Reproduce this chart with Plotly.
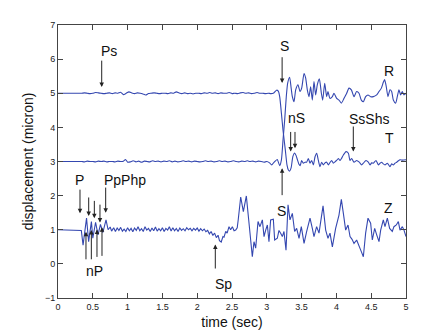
import plotly.graph_objects as go

# ---------------- data ----------------
z_time = [0.0, 0.32, 0.335, 0.36, 0.385, 0.41, 0.44, 0.48, 0.50, 0.54, 0.575, 0.61, 0.645, 0.69,
          0.72, 0.75, 0.77, 0.80, 0.825, 0.85, 0.875, 0.90, 0.925, 0.95, 0.975, 1.0, 1.025, 1.05,
          1.075, 1.10, 1.125, 1.15, 1.175, 1.20, 1.225, 1.25, 1.275, 1.30, 1.325, 1.35, 1.375, 1.40,
          1.425, 1.45, 1.475, 1.50, 1.525, 1.55, 1.575, 1.60, 1.625, 1.65, 1.675, 1.70, 1.725, 1.75,
          1.775, 1.80, 1.825, 1.85, 1.875, 1.90, 1.925, 1.95, 1.975, 2.0, 2.025, 2.05, 2.075, 2.10,
          2.125, 2.15, 2.175, 2.20, 2.225, 2.25, 2.275, 2.30, 2.32, 2.345, 2.37, 2.385, 2.41, 2.43,
          2.457, 2.48, 2.505, 2.53, 2.553, 2.575, 2.59, 2.625, 2.663, 2.706, 2.735, 2.768, 2.792,
          2.816, 2.840, 2.874, 2.902, 2.936, 2.960, 2.984, 3.008, 3.031, 3.055, 3.094, 3.113, 3.151,
          3.175, 3.199, 3.223, 3.247, 3.276, 3.305, 3.333, 3.367, 3.400, 3.429, 3.463, 3.496, 3.535,
          3.573, 3.621, 3.654, 3.678, 3.716, 3.750, 3.808, 3.846, 3.879, 3.908, 3.942, 3.989, 4.037,
          4.071, 4.100, 4.133, 4.167, 4.196, 4.225, 4.253, 4.291, 4.325, 4.358, 4.387, 4.420, 4.454,
          4.492, 4.516, 4.550, 4.579, 4.612, 4.636, 4.674, 4.698, 4.732, 4.765, 4.803, 4.827, 4.861,
          4.890, 4.914, 4.948, 4.971, 5.0]
z_disp = [1.0, 1.0, 0.98, 0.55, 0.90, 1.34, 0.65, 1.24, 0.75, 1.22, 0.85, 1.16, 0.92, 1.29,
          1.00, 1.08, 0.96, 1.06, 0.95, 1.05, 0.98, 1.07, 0.96, 1.02, 0.95, 1.06, 0.97, 1.04,
          0.94, 1.05, 0.98, 1.09, 0.97, 1.03, 0.95, 1.09, 0.99, 1.04, 0.95, 1.05, 0.97, 1.08,
          0.96, 1.03, 0.97, 1.06, 0.95, 1.04, 0.99, 1.09, 0.96, 1.06, 0.97, 1.04, 0.95, 1.05,
          0.98, 1.03, 0.97, 1.06, 1.00, 1.04, 0.97, 1.04, 0.99, 1.05, 0.96, 1.03, 0.97, 1.02,
          0.94, 0.98, 0.88, 0.95, 0.83, 0.90, 0.77, 0.84, 0.68, 0.64, 0.80, 0.78, 0.95, 0.90,
          1.09, 1.00, 1.09, 0.97, 0.99, 1.06, 1.30, 1.96, 1.53, 1.99, 1.39, 0.80, 0.21,
          0.65, 0.46, 1.24, 1.09, 1.29, 0.80, 0.99, 1.14, 0.65, 1.29, 1.31, 0.70, 0.75,
          0.98, 0.90, 0.80, 0.95, 0.40, 1.73, 1.29, 1.48, 0.95, 1.04, 0.75, 1.09, 0.60,
          0.95, 1.34, 1.04, 0.80, 1.09, 0.90, 1.70, 0.99, 0.75, 0.90, 0.50, 1.04, 1.43,
          1.89, 1.48, 0.99, 1.14, 0.80, 0.72, 0.60, 0.70, 0.50, 0.36, 0.21, 0.90, 1.34,
          1.19, 0.70, 1.04, 0.85, 0.65, 0.99, 1.29, 1.09, 1.34, 1.04, 0.95, 1.09, 1.14,
          1.24, 0.99, 1.09, 0.99, 0.80]

r_time = [0.0, 0.25, 0.30, 0.34, 0.38, 0.42, 0.46, 0.50, 0.54, 0.58, 0.62, 0.66, 0.70, 0.74,
          0.78, 0.82, 0.86, 0.90, 0.94, 0.98, 1.02, 1.06, 1.10, 1.14, 1.18, 1.22, 1.26, 1.30,
          1.34, 1.38, 1.42, 1.46, 1.50, 1.54, 1.58, 1.62, 1.66, 1.70, 1.74, 1.78, 1.82, 1.86,
          1.90, 1.94, 1.98, 2.02, 2.06, 2.10, 2.14, 2.18, 2.22, 2.26, 2.30, 2.34, 2.38, 2.42,
          2.46, 2.50, 2.54, 2.58, 2.62, 2.66, 2.70, 2.74, 2.78, 2.82, 2.86, 2.90, 2.94, 2.98,
          3.02, 3.06, 3.10, 3.14, 3.165, 3.185, 3.21, 3.233, 3.266, 3.29, 3.31, 3.33, 3.35,
          3.375, 3.40, 3.42, 3.44, 3.46, 3.48, 3.50, 3.525, 3.55, 3.573, 3.597, 3.621, 3.645,
          3.669, 3.693, 3.717, 3.741, 3.764, 3.788, 3.812, 3.836, 3.860, 3.884, 3.908, 3.932,
          3.956, 3.980, 4.003, 4.028, 4.052, 4.076, 4.100, 4.138, 4.172, 4.195, 4.219, 4.253,
          4.291, 4.329, 4.363, 4.387, 4.425, 4.459, 4.483, 4.507, 4.531, 4.569, 4.603, 4.627,
          4.650, 4.674, 4.698, 4.732, 4.770, 4.794, 4.818, 4.842, 4.866, 4.890, 4.914, 4.950,
          5.0]
r_disp = [5.00, 5.00, 5.00, 5.00, 5.01, 5.00, 4.99, 5.00, 5.02, 5.01, 5.00, 4.99, 5.00, 5.01,
          4.99, 5.01, 5.00, 5.03, 4.96, 5.00, 5.04, 5.01, 4.99, 5.01, 5.00, 4.98, 4.95, 4.99,
          5.00, 5.01, 5.00, 4.99, 5.00, 5.00, 4.99, 5.01, 5.00, 5.04, 5.01, 4.99, 5.01, 4.99,
          5.00, 4.98, 5.00, 5.00, 4.99, 5.01, 5.00, 5.02, 5.00, 5.01, 4.99, 5.01, 5.00, 5.00,
          5.02, 4.99, 5.00, 4.99, 5.01, 5.02, 5.00, 5.01, 4.99, 5.00, 5.02, 5.00, 5.00, 4.99,
          5.00, 4.99, 5.01, 5.09, 5.06, 4.90, 4.41, 3.92, 3.34, 2.90, 2.75, 2.72, 2.82,
          3.15, 3.25, 3.18, 3.05, 2.93, 2.88, 3.03, 2.95, 2.98, 2.98, 3.09, 2.95, 3.03,
          2.90, 3.14, 3.24, 3.03, 2.85, 2.98, 2.90, 2.96, 2.98, 2.90, 2.97, 3.03,
          2.95, 2.99, 3.03, 3.09, 3.03, 3.10, 3.19, 3.29, 3.24, 3.03, 3.09, 2.98,
          3.03, 2.98, 2.90, 2.95, 3.03, 2.98, 2.90, 2.96, 2.95, 3.03, 2.90, 2.95,
          2.98, 2.93, 2.90, 2.95, 2.85, 2.93, 2.90, 2.95, 2.98, 3.02, 3.05, 3.04,
          3.05]

t_time = [0.0, 0.30, 0.34, 0.38, 0.42, 0.46, 0.50, 0.54, 0.58, 0.62, 0.66, 0.70, 0.74, 0.78,
          0.82, 0.86, 0.90, 0.94, 0.97, 1.00, 1.04, 1.08, 1.12, 1.16, 1.20, 1.24, 1.28, 1.32,
          1.36, 1.40, 1.44, 1.48, 1.52, 1.56, 1.60, 1.64, 1.68, 1.72, 1.76, 1.80, 1.84, 1.88,
          1.92, 1.96, 2.00, 2.04, 2.08, 2.12, 2.16, 2.20, 2.24, 2.28, 2.32, 2.36, 2.40, 2.44,
          2.48, 2.52, 2.56, 2.60, 2.64, 2.68, 2.72, 2.76, 2.80, 2.84, 2.88, 2.92, 2.96, 3.00,
          3.04, 3.07, 3.10, 3.12, 3.15, 3.185, 3.21, 3.233, 3.257, 3.28, 3.30, 3.328, 3.350,
          3.367, 3.391, 3.415, 3.448, 3.477, 3.501, 3.535, 3.558, 3.582, 3.606, 3.630, 3.654,
          3.678, 3.702, 3.726, 3.755, 3.784, 3.803, 3.832, 3.860, 3.879, 3.908, 3.942, 3.965,
          4.004, 4.037, 4.071, 4.109, 4.148, 4.181, 4.215, 4.253, 4.291, 4.325, 4.358, 4.387,
          4.420, 4.454, 4.492, 4.531, 4.579, 4.612, 4.646, 4.674, 4.693, 4.717, 4.741, 4.770,
          4.794, 4.818, 4.851, 4.875, 4.899, 4.923, 4.947, 4.971, 5.0]
t_disp = [3.00, 3.00, 3.00, 2.99, 3.01, 3.00, 3.00, 2.99, 3.01, 3.00, 3.01, 2.99, 3.00, 3.00,
          2.99, 3.01, 3.00, 3.01, 3.06, 2.98, 2.99, 3.02, 2.99, 3.01, 2.98, 3.01, 3.00, 2.99,
          3.02, 3.00, 3.01, 2.99, 3.01, 3.00, 3.02, 2.99, 3.01, 2.99, 3.00, 3.02, 3.00, 3.01,
          2.99, 3.01, 3.00, 2.99, 3.00, 3.02, 3.00, 3.01, 2.99, 3.00, 3.02, 3.00, 3.01, 2.99,
          3.00, 3.02, 3.00, 2.99, 3.01, 3.00, 3.02, 3.00, 3.01, 2.99, 3.01, 3.00, 2.98, 3.00,
          2.96, 2.90, 2.97, 3.01, 3.06, 2.88, 3.05, 3.63, 4.22, 4.90, 5.30, 5.47, 5.15,
          4.90, 4.75, 5.10, 5.25, 5.05, 5.15, 5.58, 5.45, 5.10, 4.90, 5.19, 4.80,
          5.34, 4.95, 5.25, 5.42, 5.00, 4.80, 5.29, 4.90, 5.05, 4.85, 4.90, 5.00,
          4.85, 4.80, 4.71, 4.85, 5.00, 5.15, 5.10, 4.90, 5.05, 5.00, 4.80, 4.75,
          4.90, 4.95, 4.90, 4.90, 4.95, 5.05, 5.15, 5.32, 5.40, 5.19, 4.90, 5.10,
          5.05, 4.80, 4.71, 4.90, 5.10, 4.95, 5.05, 4.95, 5.00]

# labels: text, x, y
labels = [("Ps", 0.735, 6.25), ("S", 3.25, 6.38), ("R", 4.76, 5.66), ("nS", 3.43, 4.28),
          ("SsShs", 4.47, 4.26), ("T", 4.76, 3.68), ("S", 3.21, 1.55), ("Z", 4.75, 1.65),
          ("P", 0.31, 2.46), ("PpPhp", 0.965, 2.46), ("nP", 0.53, -0.22), ("Sp", 2.38, -0.59)]
# arrows: tip x, tip y, tail x, tail y
arrows = [(0.628, 5.18, 0.628, 6.00), (3.22, 5.30, 3.22, 6.10),
          (3.343, 3.29, 3.343, 3.91), (3.405, 3.39, 3.405, 3.91),
          (4.243, 3.29, 4.243, 4.07), (3.22, 2.80, 3.22, 1.97),
          (0.316, 1.48, 0.316, 2.22), (0.441, 1.40, 0.441, 1.99), (0.522, 1.34, 0.522, 1.89),
          (0.603, 1.21, 0.603, 1.78), (0.685, 1.50, 0.685, 2.28),
          (0.402, 0.94, 0.402, 0.09), (0.479, 0.99, 0.479, 0.09), (0.560, 1.01, 0.560, 0.16),
          (0.632, 1.07, 0.632, 0.19), (2.26, 0.57, 2.26, -0.18)]

x_ticks = [0, 0.5, 1, 1.5, 2, 2.5, 3, 3.5, 4, 4.5, 5]
y_ticks = [-1, 0, 1, 2, 3, 4, 5, 6, 7]

line_color = "#3447b0"
font_family = "Liberation Sans, Arial, sans-serif"

fig = go.Figure()
for xs, ys, shape in [(z_time, z_disp, "linear"), (t_time, t_disp, "spline"),
                      (r_time, r_disp, "spline")]:
    fig.add_trace(go.Scatter(x=xs, y=ys, mode="lines",
                             line=dict(color=line_color, width=1.1, shape=shape, smoothing=0.6),
                             showlegend=False, hoverinfo="skip"))

for txt, x, y in labels:
    fig.add_annotation(x=x, y=y, text=txt, showarrow=False,
                       font=dict(size=14, color="#111", family=font_family))

for tx, ty, ax, ay in arrows:
    fig.add_annotation(x=tx, y=ty, ax=ax, ay=ay, xref="x", yref="y", axref="x", ayref="y",
                       text="", showarrow=True, arrowhead=2, arrowsize=0.9, arrowwidth=1,
                       arrowcolor="#222", standoff=0, startstandoff=0)

axis_common = dict(showline=True, linecolor="#444", linewidth=1, mirror="ticks",
                   ticks="inside", ticklen=5, tickcolor="#444", tickwidth=1,
                   showgrid=False, zeroline=False,
                   tickfont=dict(size=9, color="#222", family=font_family))

fig.update_xaxes(range=[0, 5], tickvals=x_ticks, ticktext=[f"{v:g}" for v in x_ticks],
                 title=dict(text="time (sec)", font=dict(size=14, color="#111", family=font_family),
                            standoff=6),
                 **axis_common)
fig.update_yaxes(range=[-1, 7], tickvals=y_ticks,
                 title=dict(text="displacement (micron)",
                            font=dict(size=14, color="#111", family=font_family), standoff=8),
                 **axis_common)

fig.update_layout(width=448, height=336, margin=dict(l=58, r=42, t=25, b=38, autoexpand=False),
                  plot_bgcolor="white", paper_bgcolor="white",
                  font=dict(family=font_family))

fig.write_html("out.html")
